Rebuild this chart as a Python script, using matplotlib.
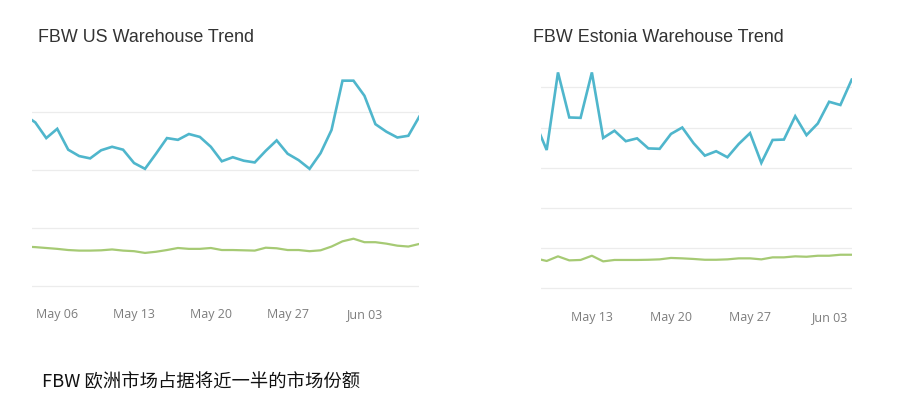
import datetime as dt
import matplotlib
matplotlib.use("Agg")
import matplotlib.pyplot as plt
import matplotlib.dates as mdates

# daily values (no axis scale in the source, arbitrary units)
us_start = dt.date(2019, 5, 3)
us_blue = [295, 282, 255, 271, 235, 224, 220, 234, 240, 235, 212, 202, 228, 255,
           252, 262, 257, 240, 215, 222, 216, 213, 233, 251, 228, 217, 202, 229,
           269, 354, 354, 328, 279, 266, 256, 259, 292]
us_green = [68, 67, 65.5, 64, 62, 61, 61, 61.5, 63, 61, 60, 57, 59, 62,
            65.5, 64, 64, 65.5, 62, 62, 61.5, 61, 66, 65, 62, 62, 60, 61.5,
            68, 77, 81.5, 75.5, 75.5, 73, 69.5, 68, 72.5]

ee_start = dt.date(2019, 5, 8)
ee_blue = [411, 344, 537, 425, 424, 537, 374, 392, 366, 373, 348, 347, 384, 400,
           361, 330, 341, 326, 359, 386, 312, 369, 370, 428, 381, 410, 464, 456, 519]
ee_green = [74.5, 68, 79.5, 69.5, 70.5, 81, 67, 70.5, 70.5, 70.5, 71, 72, 75.5, 74.5,
            73, 71, 71, 72, 74.5, 74.5, 72, 77, 77, 79.5, 78.5, 81, 81, 83.5, 83.5]

us_ticks = [dt.date(2019, 5, 6), dt.date(2019, 5, 13), dt.date(2019, 5, 20),
            dt.date(2019, 5, 27), dt.date(2019, 6, 3)]
ee_ticks = us_ticks[1:]

BLUE = "#4fb6cc"
GREEN = "#a6ca74"
W, H = 912, 414


def days(start, n):
    return [start + dt.timedelta(days=i) for i in range(n)]


def px_axes(fig, x0, x1, ytop, ybot):
    return fig.add_axes([x0 / W, 1 - ybot / H, (x1 - x0) / W, (ybot - ytop) / H])


def style(ax, ticks, grid, pad):
    for s in ax.spines.values():
        s.set_visible(False)
    ax.set_yticks(grid)
    ax.tick_params(axis="y", left=False, labelleft=False)
    ax.grid(axis="y", color="#ececec", linewidth=0.9)
    ax.set_axisbelow(True)
    ax.set_xticks([mdates.date2num(t) for t in ticks])
    ax.xaxis.set_major_formatter(mdates.DateFormatter("%b %d"))
    ax.tick_params(axis="x", length=0, pad=pad, labelsize=9, labelcolor="#7d7d7d")
    for lab in ax.get_xticklabels():
        lab.set_family("Open Sans")


fig = plt.figure(figsize=(W / 100, H / 100), dpi=100)
fig.patch.set_facecolor("white")

# left: US
ax1 = px_axes(fig, 32, 419.3, 75, 290)
x_us = days(us_start, len(us_blue))
ax1.plot(x_us, us_blue, color=BLUE, linewidth=1.9, solid_joinstyle="miter")
ax1.plot(x_us, us_green, color=GREEN, linewidth=1.6)
ax1.set_xlim(mdates.date2num(dt.date(2019, 5, 4)) - 0.3, mdates.date2num(dt.date(2019, 6, 8)))
ax1.set_ylim(-5.2, 365.5)
style(ax1, us_ticks, [0, 100, 200, 300], 13)

# right: Estonia
ax2 = px_axes(fig, 540.7, 851.7, 68, 292)
x_ee = days(ee_start, len(ee_blue))
ax2.plot(x_ee, ee_blue, color=BLUE, linewidth=1.9, solid_joinstyle="miter")
ax2.plot(x_ee, ee_green, color=GREEN, linewidth=1.6)
ax2.set_xlim(mdates.date2num(dt.date(2019, 5, 9)) - 0.53, mdates.date2num(dt.date(2019, 6, 5)))
ax2.set_ylim(-6.7, 550.5)
style(ax2, ee_ticks, [0, 100, 200, 300, 400, 500], 14)

fig.text(38 / W, 1 - 37 / H, "FBW US Warehouse Trend", family="Liberation Sans",
         fontsize=12.85, color="#333333", va="center", ha="left")
fig.text(533 / W, 1 - 37 / H, "FBW Estonia Warehouse Trend", family="Liberation Sans",
         fontsize=12.85, color="#333333", va="center", ha="left")
fig.text(42 / W, 1 - 382 / H, "FBW 欧洲市场占据将近一半的市场份额",
         family=["Noto Sans CJK SC", "DejaVu Sans"], fontsize=13.2, color="#111111",
         va="center", ha="left")

fig.savefig("out.png", dpi=100)
